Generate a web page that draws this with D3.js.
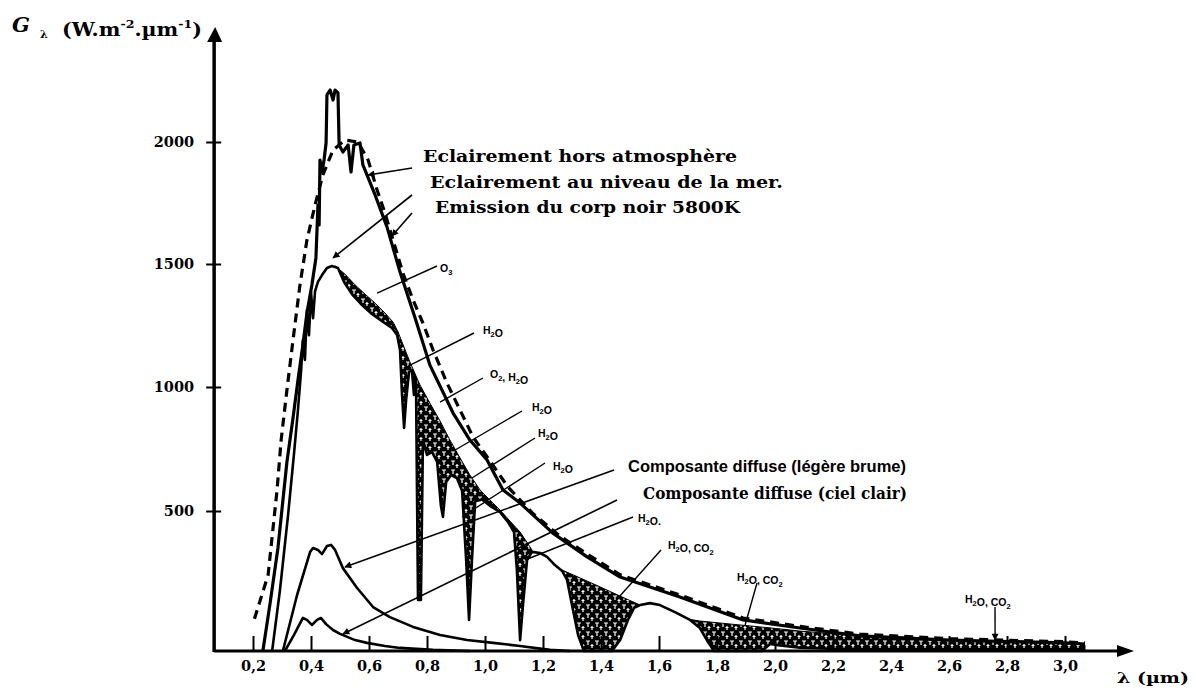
<!DOCTYPE html>
<html>
<head>
<meta charset="utf-8">
<script src="https://cdn.jsdelivr.net/npm/d3@7"></script>
<style>
  html, body { margin: 0; padding: 0; background: #fff; }
  svg { display: block; }
</style>
</head>
<body>
<svg id="chart" width="1196" height="688"></svg>
<script>
// ---- Axis ticks ----
const xTicks = [0.2, 0.4, 0.6, 0.8, 1.0, 1.2, 1.4, 1.6, 1.8, 2.0, 2.2, 2.4, 2.6, 2.8, 3.0];
const yTicks = [500, 1000, 1500, 2000];

// ---- Extraterrestrial irradiance (W.m-2.um-1) ----
const etLambda = [0.234, 0.259, 0.286, 0.317, 0.338, 0.355, 0.372, 0.386, 0.403, 0.417, 0.424, 0.428, 0.431, 0.438, 0.445, 0.452, 0.455, 0.466, 0.476, 0.483, 0.493, 0.497, 0.510, 0.528, 0.538, 0.548, 0.569, 0.579, 0.621, 0.662, 0.707, 0.759, 0.810, 0.890, 0.948, 1.007, 1.062, 1.121, 1.234, 1.352, 1.466, 1.672, 1.890, 2.086, 2.293, 2.603, 3.000, 3.069];
const etValue  = [0, 171, 368, 698, 875, 1028, 1171, 1301, 1415, 1525, 1742, 1660, 1926, 1877, 1926, 1996, 2193, 2213, 2172, 2213, 2201, 1988, 1959, 1988, 1877, 1988, 1996, 1906, 1783, 1652, 1467, 1280, 1089, 895, 786, 706, 585, 532, 421, 336, 264, 193, 111, 82, 54, 39, 29, 25];

// ---- Black body 5800 K ----
const bbLambda = [0.205, 0.252, 0.283, 0.297, 0.317, 0.338, 0.362, 0.386, 0.414, 0.441, 0.476, 0.517, 0.562, 0.597, 0.628, 0.655, 0.683, 0.717, 0.752, 0.786, 0.821, 0.869, 0.914, 0.959, 1.010, 1.079, 1.166, 1.259, 1.362, 1.466, 1.672, 1.890, 2.086, 2.293, 2.603, 3.000, 3.069];
const bbValue  = [115, 271, 585, 786, 988, 1191, 1415, 1598, 1742, 1865, 1967, 2008, 2000, 1926, 1803, 1709, 1598, 1463, 1354, 1260, 1150, 1016, 907, 798, 714, 597, 490, 410, 340, 272, 200, 118, 88, 60, 44, 33, 29];

// ---- Sea level irradiance ----
const slLambda = [0.266, 0.293, 0.321, 0.341, 0.355, 0.366, 0.372, 0.379, 0.386, 0.393, 0.400, 0.407, 0.414, 0.424, 0.438, 0.455, 0.472, 0.493, 0.514, 0.541, 0.576, 0.610, 0.645, 0.679, 0.697, 0.707, 0.714, 0.721, 0.728, 0.738, 0.748, 0.755, 0.762, 0.769, 0.779, 0.786, 0.800, 0.817, 0.835, 0.848, 0.855, 0.866, 0.883, 0.903, 0.921, 0.935, 0.945, 0.955, 0.966, 0.990, 1.017, 1.052, 1.079, 1.100, 1.110, 1.121, 1.131, 1.145, 1.162, 1.190, 1.214, 1.241, 1.266, 1.283, 1.300, 1.321, 1.341, 1.438, 1.466, 1.493, 1.514, 1.535, 1.569, 1.603, 1.655, 1.707, 1.741, 1.769, 1.790, 1.955, 1.983, 2.017, 2.086, 2.190, 2.328, 2.603, 3.000, 3.069];
const slValue  = [0, 218, 486, 726, 907, 1069, 1191, 1110, 1313, 1211, 1386, 1280, 1390, 1427, 1455, 1484, 1492, 1484, 1427, 1378, 1333, 1297, 1268, 1240, 1211, 1150, 968, 835, 948, 1061, 1069, 968, 1028, 182, 182, 786, 726, 738, 698, 521, 479, 617, 645, 633, 582, 325, 111, 325, 539, 546, 521, 496, 461, 425, 289, 39, 164, 325, 354, 350, 336, 307, 286, 254, 164, 57, 0, 0, 39, 111, 154, 164, 171, 164, 139, 111, 82, 32, 0, 0, 25, 20, 12, 8, 6, 5, 4, 4];

// ---- Sea level without molecular absorption (upper edge of the bands) ----
const envLambda = [0.483, 0.517, 0.552, 0.586, 0.621, 0.655, 0.683, 0.700, 0.741, 0.776, 0.810, 0.845, 0.879, 0.914, 0.948, 0.983, 1.017, 1.052, 1.086, 1.121, 1.162, 1.266, 1.328, 1.397, 1.466, 1.535, 1.700, 1.741, 1.810, 1.879, 1.948, 2.017, 2.086, 2.259, 2.431, 2.603, 2.776, 3.000, 3.069];
const envValue  = [1492, 1459, 1415, 1378, 1341, 1301, 1264, 1224, 1102, 1008, 935, 863, 786, 714, 645, 585, 544, 504, 464, 425, 361, 289, 261, 229, 196, 164, 114, 107, 100, 93, 86, 79, 71, 57, 50, 39, 36, 29, 21];

// Absorption bands (um): O3, H2O/O2, H2O, H2O-CO2
const bandRanges = [[0.48, 0.70], [0.70, 1.17], [1.26, 1.54], [1.69, 3.07]];

// ---- Diffuse components ----
const hazeLambda = [0.303, 0.352, 0.397, 0.407, 0.424, 0.438, 0.455, 0.469, 0.483, 0.510, 0.559, 0.614, 0.672, 0.752, 0.845, 0.938, 1.028, 1.121, 1.224, 1.293];
const hazeValue  = [0, 200, 354, 368, 361, 346, 375, 379, 361, 296, 225, 157, 121, 86, 57, 39, 29, 18, 4, 0];
const clearLambda = [0.310, 0.341, 0.372, 0.386, 0.403, 0.421, 0.434, 0.452, 0.476, 0.500, 0.552, 0.593, 0.655, 0.707, 0.821, 0.948];
const clearValue  = [0, 57, 118, 111, 93, 111, 118, 96, 75, 61, 39, 29, 18, 11, 4, 0];

// ---- Scales ----
const svg = d3.select("#chart");
const x = d3.scaleLinear().domain([0.2, 3.0]).range([253, 1065]);
// hand-drawn ordinate: graduations are not evenly spaced
const y = d3.scaleLinear().domain([0, 500, 1000, 1500, 2000]).range([651, 511, 387, 264, 142]);
const xAxisPos = x(0.066);
const yBase = y(0);

const zip = (a, b) => a.map((v, i) => [v, b[i]]);
const line = d3.line().x(d => x(d[0])).y(d => y(d[1]));

svg.append("rect").attr("width", 1196).attr("height", 688).attr("fill", "#fff");

// ---- Defs: hatching and arrow heads ----
const defs = svg.append("defs");
const pat = defs.append("pattern").attr("id", "hatch")
  .attr("patternUnits", "userSpaceOnUse").attr("width", 9).attr("height", 9);
pat.append("rect").attr("width", 9).attr("height", 9).attr("fill", "#000");
pat.append("path")
  .attr("d", "M1 2H5M3 2V6M5.5 6.5H8.5M7 5V9")
  .attr("stroke", "#fff").attr("stroke-width", 1.2).attr("fill", "none");

defs.append("marker").attr("id", "arrow")
  .attr("viewBox", "0 0 10 10").attr("refX", 9).attr("refY", 5)
  .attr("markerWidth", 12).attr("markerHeight", 7).attr("markerUnits", "userSpaceOnUse")
  .attr("orient", "auto")
  .append("path").attr("d", "M0,0L10,5L0,10z").attr("fill", "#000");

// ---- Absorption bands ----
const env = zip(envLambda, envValue);
const sl = zip(slLambda, slValue);
bandRanges.forEach(([a, b]) => {
  const top = env.filter(d => d[0] >= a - 1e-9 && d[0] <= b + 1e-9);
  const bottom = sl.filter(d => d[0] >= a - 1e-9 && d[0] <= b + 1e-9).reverse();
  svg.append("path")
    .attr("d", line(top.concat(bottom)) + "Z")
    .attr("fill", "url(#hatch)")
    .attr("stroke", "#000").attr("stroke-width", 1);
});

// ---- Curves ----
svg.append("path").attr("d", line(zip(bbLambda, bbValue)))
  .attr("fill", "none").attr("stroke", "#000").attr("stroke-width", 3.2)
  .attr("stroke-dasharray", "9,6");
svg.append("path").attr("d", line(sl))
  .attr("fill", "none").attr("stroke", "#000").attr("stroke-width", 2.6).attr("stroke-linejoin", "round");
svg.append("path").attr("d", line(zip(etLambda, etValue)))
  .attr("fill", "none").attr("stroke", "#000").attr("stroke-width", 3.2).attr("stroke-linejoin", "round");
svg.append("path").attr("d", line(zip(hazeLambda, hazeValue)))
  .attr("fill", "none").attr("stroke", "#000").attr("stroke-width", 2.6).attr("stroke-linejoin", "round");
svg.append("path").attr("d", line(zip(clearLambda, clearValue)))
  .attr("fill", "none").attr("stroke", "#000").attr("stroke-width", 2.6).attr("stroke-linejoin", "round");

// ---- Axes ----
const fmt = d => d3.format(".1f")(d).replace(".", ",");
const gx = svg.append("g").attr("transform", `translate(0,${yBase})`)
  .call(d3.axisBottom(x).tickValues(xTicks).tickFormat(fmt).tickSizeInner(-15).tickSizeOuter(0).tickPadding(10));
gx.select(".domain").remove();
gx.selectAll(".tick line").attr("stroke", "#000").attr("stroke-width", 2);
gx.selectAll(".tick text").attr("font-family", "DejaVu Serif").attr("font-weight", "bold")
  .attr("font-size", 14.5).attr("fill", "#000");

const gy = svg.append("g").attr("transform", `translate(${xAxisPos},0)`)
  .call(d3.axisLeft(y).tickValues(yTicks).tickFormat(d3.format("d")).tickSizeInner(8).tickSizeOuter(0).tickPadding(12));
gy.select(".domain").remove();
gy.selectAll(".tick line").attr("x1", 7).attr("x2", -8).attr("stroke", "#000").attr("stroke-width", 2);
gy.selectAll(".tick text").attr("font-family", "DejaVu Serif").attr("font-weight", "bold")
  .attr("font-size", 14.5).attr("fill", "#000");

// axis lines with arrow heads
svg.append("line").attr("x1", xAxisPos).attr("y1", yBase).attr("x2", 1120).attr("y2", yBase)
  .attr("stroke", "#000").attr("stroke-width", 3);
svg.append("path").attr("d", `M1117,${yBase - 6}L1134,${yBase}L1117,${yBase + 6}Z`).attr("fill", "#000");
svg.append("line").attr("x1", xAxisPos).attr("y1", yBase + 1).attr("x2", xAxisPos).attr("y2", 40)
  .attr("stroke", "#000").attr("stroke-width", 3.5);
svg.append("path").attr("d", `M${xAxisPos - 7},42L${xAxisPos + 1},27L${xAxisPos + 8},42Z`).attr("fill", "#000");

// axis titles
svg.append("text").attr("x", 12).attr("y", 32)
  .attr("font-family", "DejaVu Serif").attr("font-weight", "bold").attr("font-style", "italic")
  .attr("font-size", 21).text("G");
svg.append("text").attr("x", 40).attr("y", 38)
  .attr("font-family", "DejaVu Serif").attr("font-weight", "bold").attr("font-size", 11).text("λ");
const unit = svg.append("text").attr("x", 62).attr("y", 36)
  .attr("font-family", "DejaVu Serif").attr("font-weight", "bold").attr("font-size", 18)
  .attr("textLength", 140).attr("lengthAdjust", "spacingAndGlyphs");
unit.append("tspan").text("(W.m");
unit.append("tspan").attr("font-size", 11).attr("dy", -8).text("-2");
unit.append("tspan").attr("dy", 8).text(".µm");
unit.append("tspan").attr("font-size", 11).attr("dy", -8).text("-1");
unit.append("tspan").attr("dy", 8).text(")");

svg.append("text").attr("x", 1117).attr("y", 683)
  .attr("font-family", "DejaVu Serif").attr("font-weight", "bold").attr("font-size", 15)
  .attr("textLength", 72).attr("lengthAdjust", "spacingAndGlyphs")
  .text("λ (µm)");

// ---- Curve captions with leader arrows ----
const captions = [
  { text: "Eclairement hors atmosphère", x: 423, y: 162, w: 314, font: "DejaVu Serif", tail: [412, 168], tip: [0.597, 1865] },
  { text: "Eclairement au niveau de la mer.", x: 430, y: 188, w: 353, font: "DejaVu Serif", tail: [412, 195], tip: [0.476, 1525] },
  { text: "Emission du corp noir 5800K", x: 435, y: 213, w: 305, font: "DejaVu Serif", tail: [412, 213], tip: [0.679, 1615] },
  { text: "Composante diffuse (légère brume)", x: 628, y: 472, w: 278, font: "Liberation Sans", tail: [614, 470], tip: [0.517, 300] },
  { text: "Composante diffuse (ciel clair)", x: 643, y: 499, w: 264, font: "DejaVu Serif", tail: [617, 500], tip: [0.510, 61] }
];
captions.forEach(c => {
  svg.append("line")
    .attr("x1", c.tail[0]).attr("y1", c.tail[1])
    .attr("x2", x(c.tip[0])).attr("y2", y(c.tip[1]))
    .attr("stroke", "#000").attr("stroke-width", 1.6)
    .attr("marker-end", "url(#arrow)");
  svg.append("text").attr("x", c.x).attr("y", c.y)
    .attr("font-family", c.font).attr("font-weight", "bold").attr("font-size", 17)
    .attr("textLength", c.w).attr("lengthAdjust", "spacingAndGlyphs")
    .text(c.text);
});

// ---- Absorbing gases ----
const gases = [
  { label: "O3", x: 440, y: 272, tail: [437, 266], tip: [0.628, 1382] },
  { label: "H2O", x: 483, y: 334, tail: [474, 333], tip: [0.735, 1085] },
  { label: "O2, H2O", x: 490, y: 378, tail: [483, 378], tip: [0.845, 939] },
  { label: "H2O", x: 532, y: 411, tail: [522, 411], tip: [0.897, 746] },
  { label: "H2O", x: 538, y: 437, tail: [535, 438], tip: [0.955, 633] },
  { label: "H2O", x: 553, y: 470, tail: [545, 463], tip: [0.921, 479] },
  { label: "H2O.", x: 638, y: 522, tail: [633, 517], tip: [1.138, 325] },
  { label: "H2O, CO2", x: 668, y: 549, tail: [661, 550], tip: [1.459, 189] },
  { label: "H2O, CO2", x: 737, y: 581, tail: [757, 583], tip: [1.897, 93] },
  { label: "H2O, CO2", x: 965, y: 603, tail: [995, 607], tip: [2.759, 39] }
];
gases.forEach((g, i) => {
  svg.append("line")
    .attr("x1", g.tail[0]).attr("y1", g.tail[1])
    .attr("x2", x(g.tip[0])).attr("y2", y(g.tip[1]))
    .attr("stroke", "#000").attr("stroke-width", 1.4)
    .attr("marker-end", i === gases.length - 1 ? "url(#arrow)" : null);
  const t = svg.append("text").attr("x", g.x).attr("y", g.y)
    .attr("font-family", "Liberation Sans").attr("font-weight", "bold").attr("font-size", 10.5);
  // digits are written as subscripts
  g.label.split(/(\d)/).filter(s => s.length).forEach(part => {
    if (/\d/.test(part)) {
      t.append("tspan").attr("font-size", 7.5).attr("dy", 3).text(part);
      t.append("tspan").attr("dy", -3).text("");
    } else {
      t.append("tspan").text(part);
    }
  });
});
</script>
</body>
</html>
